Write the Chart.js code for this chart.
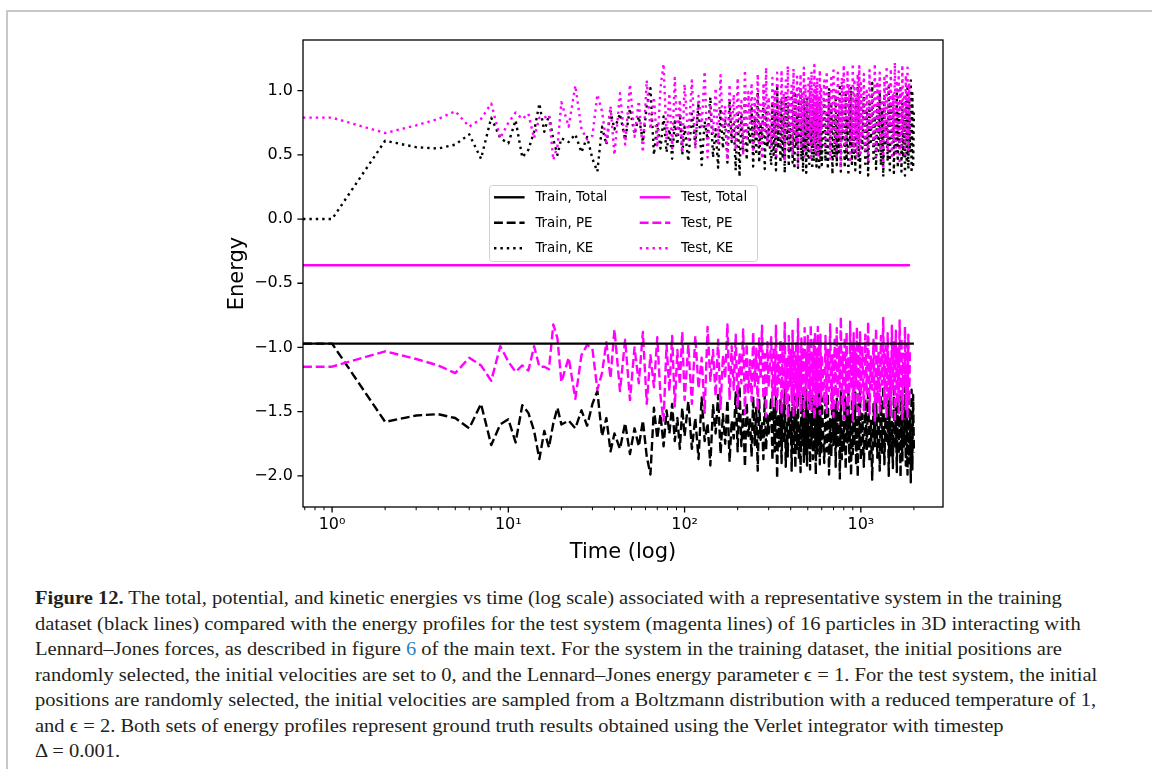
<!DOCTYPE html>
<html>
<head>
<meta charset="utf-8">
<title>Figure 12</title>
<script src="https://cdn.jsdelivr.net/npm/chart.js@4.4.1/dist/chart.umd.min.js"></script>
<style>
body{margin:0;background:#fff;width:1152px;height:769px;overflow:hidden;position:relative;}
#frame{position:absolute;left:6px;top:10px;right:0;bottom:0;border-top:2px solid #c8c8c8;border-left:2px solid #c8c8c8;}
#plot{position:absolute;left:0;top:0;}
#caption{position:absolute;left:35px;top:585px;font-family:"Liberation Serif",serif;font-size:19px;line-height:25.5px;color:#231f20;white-space:nowrap;transform:scaleX(1.08);transform-origin:left top;}
#caption .ref{color:#2a86c6;}
</style>
</head>
<body>
<div id="frame"></div>
<canvas id="plot" width="1152" height="575"></canvas>
<div id="caption"><b>Figure 12.</b> The total, potential, and kinetic energies vs time (log scale) associated with a representative system in the training<br>
dataset (black lines) compared with the energy profiles for the test system (magenta lines) of 16 particles in 3D interacting with<br>
Lennard–Jones forces, as described in figure <span class="ref">6</span> of the main text. For the system in the training dataset, the initial positions are<br>
randomly selected, the initial velocities are set to 0, and the Lennard–Jones energy parameter ϵ = 1. For the test system, the initial<br>
positions are randomly selected, the initial velocities are sampled from a Boltzmann distribution with a reduced temperature of 1,<br>
and ϵ = 2. Both sets of energy profiles represent ground truth results obtained using the Verlet integrator with timestep<br>
Δ = 0.001.</div>
<script>
// sampled time steps (shared by all noisy series)
const timeSteps = [
    0,1,2,3,4,5,6,7,8,9,10,11,12,13,14,15,16,17,18,19,20,
    22,24,26,28,30,32,34,36,38,40,
    43,46,49,52,55,58,61,64,67,70,73,76,79,82,85,88,91,94,97,100,
    105,110,115,120,125,130,135,140,145,150,155,160,165,170,175,180,185,190,195,200,
    205,210,215,220,225,230,235,240,245,250,255,260,265,270,275,280,285,290,295,300,
    310,315,320,325,330,335,340,345,350,355,360,365,370,375,380,385,390,395,400,405,
    410,415,420,425,430,435,440,445,450,455,460,465,470,475,480,485,490,495,500,505,
    510,515,520,525,530,535,540,545,550,555,560,565,570,575,580,585,590,595,600,
    620,630,640,650,660,670,680,690,700,710,720,730,740,750,760,770,780,790,800,810,
    820,830,840,850,860,870,880,890,900,910,920,930,940,950,960,970,980,990,1000,
    1020,1040,1060,1080,1100,1120,1140,1160,1180,1200,1220,1240,1260,1280,1300,1320,1340,1360,1380,1400,
    1420,1440,1460,1480,1500,1520,1540,1560,1580,1600,1620,1640,1660,1680,1700,1720,1740,1760,1780,1800,
    1820,1840,1860,1880,1900,1920,1940,1960,1980,2000
];

// training system
const trainKE = [
    0.00,0.00,0.61,0.56,0.55,0.58,0.66,0.47,0.79,0.63,0.59,0.77,0.48,0.54,0.68,0.90,0.68,0.81,0.62,0.50,0.63,
    0.60,0.66,0.52,0.64,0.47,0.37,0.72,0.58,0.84,0.70,
    0.82,0.62,0.86,0.66,0.80,0.60,0.88,1.02,0.50,0.74,0.55,0.80,0.52,0.70,0.47,0.76,0.58,0.82,0.50,0.72,
    0.45,0.82,0.58,0.90,0.42,0.76,0.62,0.95,0.48,0.70,0.40,0.86,0.55,0.78,0.44,0.92,0.60,0.74,0.38,0.84,
    0.33,0.80,0.52,0.96,0.46,0.72,0.58,0.88,0.41,0.79,0.50,0.99,0.44,0.75,0.62,0.90,0.39,0.83,0.56,0.70,
    0.42,0.91,0.50,0.84,0.38,1.05,0.55,0.80,0.44,0.93,0.47,0.78,0.36,0.96,0.60,0.88,0.41,0.74,0.52,0.99,
    0.44,0.85,0.39,0.97,0.56,0.82,0.40,0.90,0.63,1.00,0.46,0.79,0.37,0.92,0.54,0.86,0.36,0.95,0.49,0.81,
    0.43,0.98,0.57,0.76,0.39,0.90,0.45,0.84,0.58,1.02,0.41,0.87,0.50,0.79,0.38,0.94,0.47,0.86,0.42,
    0.93,0.45,0.84,0.39,1.02,0.58,0.88,0.35,0.79,0.48,0.96,0.42,0.81,0.52,1.05,0.37,0.90,0.61,0.83,0.40,
    0.98,0.46,0.77,0.34,0.92,0.56,1.03,0.43,0.86,0.50,0.80,0.38,0.95,0.60,1.04,0.45,0.82,0.36,0.91,
    0.55,0.96,0.43,0.83,0.34,0.92,0.60,1.06,0.47,0.80,0.39,0.89,0.53,0.99,0.42,0.85,0.33,0.94,0.57,0.78,
    0.45,1.03,0.38,0.88,0.61,0.97,0.36,0.82,0.50,1.00,0.40,0.86,0.56,1.04,0.37,0.91,0.48,0.80,0.34,0.95,
    0.44,1.02,0.39,0.93,0.52,1.08,0.36,0.98,0.40,0.85
];
const trainPE = [
    -0.97,-0.97,-1.58,-1.53,-1.52,-1.55,-1.63,-1.44,-1.76,-1.60,-1.56,-1.74,-1.45,-1.51,-1.65,-1.87,-1.65,-1.78,-1.59,-1.47,-1.60,
    -1.57,-1.63,-1.49,-1.61,-1.44,-1.34,-1.69,-1.55,-1.81,-1.67,
    -1.79,-1.59,-1.83,-1.63,-1.77,-1.57,-1.85,-1.99,-1.47,-1.71,-1.52,-1.77,-1.49,-1.67,-1.44,-1.73,-1.55,-1.79,-1.47,-1.69,
    -1.42,-1.79,-1.55,-1.87,-1.39,-1.73,-1.59,-1.92,-1.45,-1.67,-1.37,-1.83,-1.52,-1.75,-1.41,-1.89,-1.57,-1.71,-1.35,-1.81,
    -1.30,-1.77,-1.49,-1.93,-1.43,-1.69,-1.55,-1.85,-1.38,-1.76,-1.47,-1.96,-1.41,-1.72,-1.59,-1.87,-1.36,-1.80,-1.53,-1.67,
    -1.39,-1.88,-1.47,-1.81,-1.35,-2.02,-1.52,-1.77,-1.41,-1.90,-1.44,-1.75,-1.33,-1.93,-1.57,-1.85,-1.38,-1.71,-1.49,-1.96,
    -1.41,-1.82,-1.36,-1.94,-1.53,-1.79,-1.37,-1.87,-1.60,-1.97,-1.43,-1.76,-1.34,-1.89,-1.51,-1.83,-1.33,-1.92,-1.46,-1.78,
    -1.40,-1.95,-1.54,-1.73,-1.36,-1.87,-1.42,-1.81,-1.55,-1.99,-1.38,-1.84,-1.47,-1.76,-1.35,-1.91,-1.44,-1.83,-1.39,
    -1.90,-1.42,-1.81,-1.36,-1.99,-1.55,-1.85,-1.32,-1.76,-1.45,-1.93,-1.39,-1.78,-1.49,-2.02,-1.34,-1.87,-1.58,-1.80,-1.37,
    -1.95,-1.43,-1.74,-1.31,-1.89,-1.53,-2.00,-1.40,-1.83,-1.47,-1.77,-1.35,-1.92,-1.57,-2.01,-1.42,-1.79,-1.33,-1.88,
    -1.52,-1.93,-1.40,-1.80,-1.31,-1.89,-1.57,-2.03,-1.44,-1.77,-1.36,-1.86,-1.50,-1.96,-1.39,-1.82,-1.30,-1.91,-1.54,-1.75,
    -1.42,-2.00,-1.35,-1.85,-1.58,-1.94,-1.33,-1.79,-1.47,-1.97,-1.37,-1.83,-1.53,-2.01,-1.34,-1.88,-1.45,-1.77,-1.31,-1.92,
    -1.41,-1.99,-1.36,-1.90,-1.49,-2.05,-1.33,-1.95,-1.37,-1.82
];
const trainTotalTimes = [0, 2000];
const trainTotal = [-0.97, -0.97];

// test system (run stops at t = 1900)
const testKE = [
    0.79,0.79,0.67,0.73,0.78,0.84,0.72,0.78,0.90,0.63,0.75,0.83,0.78,0.82,0.63,0.79,0.79,0.81,0.46,0.57,0.91,
    0.72,1.04,0.70,0.62,0.65,0.97,0.84,0.60,0.88,0.50,
    0.98,0.58,1.05,0.64,0.92,0.52,1.08,0.70,0.95,0.56,1.02,1.21,0.62,0.98,0.55,1.10,0.66,0.93,0.52,1.05,
    0.62,1.08,0.55,0.96,0.72,1.15,0.48,0.90,0.66,1.02,0.58,1.12,0.70,0.88,0.46,1.05,0.63,0.97,0.54,1.10,
    0.68,0.92,0.50,1.16,0.61,0.99,0.74,1.06,0.52,0.94,0.65,1.13,0.57,0.89,0.47,1.04,0.69,1.18,0.60,0.95,
    0.56,1.10,0.64,1.01,0.47,1.14,0.70,0.92,0.58,1.16,0.62,0.98,0.45,1.08,0.73,1.19,0.55,0.94,0.66,1.06,
    0.50,1.17,0.68,0.95,0.59,1.11,0.42,1.02,0.71,1.13,0.57,0.99,0.64,1.18,0.49,1.05,0.69,0.91,0.55,1.12,
    0.63,1.07,0.46,1.15,0.72,0.97,0.58,1.20,0.52,1.04,0.67,1.10,0.48,0.96,0.61,1.16,0.54,1.03,0.70,
    1.08,0.55,1.15,0.66,0.98,0.46,1.12,0.70,1.18,0.58,1.02,0.49,1.14,0.63,0.95,0.40,1.10,0.68,1.20,0.56,
    0.99,0.52,1.16,0.71,1.05,0.44,0.96,0.62,1.21,0.53,1.09,0.65,0.94,0.48,1.13,0.59,1.19,0.51,1.06,
    0.64,1.13,0.54,1.00,0.44,1.16,0.71,0.97,0.58,1.21,0.49,1.07,0.67,1.14,0.55,0.93,0.41,1.10,0.63,1.19,
    0.53,1.04,0.72,1.17,0.47,0.98,0.60,1.22,0.51,1.08,0.65,1.15,0.43,1.01,0.57,1.20,0.69,0.95,0.48,1.12,
    0.61,1.18,0.54,1.06,0.66
];
const testPE = [
    -1.15,-1.15,-1.03,-1.09,-1.14,-1.20,-1.08,-1.14,-1.26,-0.99,-1.11,-1.19,-1.14,-1.18,-0.99,-1.15,-1.15,-1.17,-0.82,-0.93,-1.27,
    -1.08,-1.40,-1.06,-0.98,-1.01,-1.33,-1.20,-0.96,-1.24,-0.86,
    -1.34,-0.94,-1.41,-1.00,-1.28,-0.88,-1.44,-1.06,-1.31,-0.92,-1.38,-1.57,-0.98,-1.34,-0.91,-1.46,-1.02,-1.29,-0.88,-1.41,
    -0.98,-1.44,-0.91,-1.32,-1.08,-1.51,-0.84,-1.26,-1.02,-1.38,-0.94,-1.48,-1.06,-1.24,-0.82,-1.41,-0.99,-1.33,-0.90,-1.46,
    -1.04,-1.28,-0.86,-1.52,-0.97,-1.35,-1.10,-1.42,-0.88,-1.30,-1.01,-1.49,-0.93,-1.25,-0.83,-1.40,-1.05,-1.54,-0.96,-1.31,
    -0.92,-1.46,-1.00,-1.37,-0.83,-1.50,-1.06,-1.28,-0.94,-1.52,-0.98,-1.34,-0.81,-1.44,-1.09,-1.55,-0.91,-1.30,-1.02,-1.42,
    -0.86,-1.53,-1.04,-1.31,-0.95,-1.47,-0.78,-1.38,-1.07,-1.49,-0.93,-1.35,-1.00,-1.54,-0.85,-1.41,-1.05,-1.27,-0.91,-1.48,
    -0.99,-1.43,-0.82,-1.51,-1.08,-1.33,-0.94,-1.56,-0.88,-1.40,-1.03,-1.46,-0.84,-1.32,-0.97,-1.52,-0.90,-1.39,-1.06,
    -1.44,-0.91,-1.51,-1.02,-1.34,-0.82,-1.48,-1.06,-1.54,-0.94,-1.38,-0.85,-1.50,-0.99,-1.31,-0.76,-1.46,-1.04,-1.56,-0.92,
    -1.35,-0.88,-1.52,-1.07,-1.41,-0.80,-1.32,-0.98,-1.57,-0.89,-1.45,-1.01,-1.30,-0.84,-1.49,-0.95,-1.55,-0.87,-1.42,
    -1.00,-1.49,-0.90,-1.36,-0.80,-1.52,-1.07,-1.33,-0.94,-1.57,-0.85,-1.43,-1.03,-1.50,-0.91,-1.29,-0.77,-1.46,-0.99,-1.55,
    -0.89,-1.40,-1.08,-1.53,-0.83,-1.34,-0.96,-1.58,-0.87,-1.44,-1.01,-1.51,-0.79,-1.37,-0.93,-1.56,-1.05,-1.31,-0.84,-1.48,
    -0.97,-1.54,-0.90,-1.42,-1.02
];
const testTotalTimes = [0, 1900];
const testTotal = [-0.36, -0.36];

// axes
const xMin = 0.684, xMax = 2925;
const yMin = -2.243, yMax = 1.395;
const xTicks = [1, 10, 100, 1000];
const xTickLabels = ['10\u2070', '10\u00b9', '10\u00b2', '10\u00b3'];
const yTicks = [-2.0, -1.5, -1.0, -0.5, 0.0, 0.5, 1.0];
const yTickLabels = ['\u22122.0', '\u22121.5', '\u22121.0', '\u22120.5', '0.0', '0.5', '1.0'];

const legendOrder = ['Train, Total', 'Train, PE', 'Train, KE', 'Test, Total', 'Test, PE', 'Test, KE'];

const BLACK = '#000000', MAGENTA = '#ff00ff';
const DASHED = [8.9, 3.8], DOTTED = [2.4, 4.0];

function pairs(times, values){
    return values.map((v, i) => ({x: times[i], y: v}));
}

function series(label, times, values, color, dash, order){
    return {
        label: label,
        data: pairs(times, values),
        borderColor: color,
        borderWidth: 2.4,
        borderDash: dash,
        borderCapStyle: 'butt',
        borderJoinStyle: 'round',
        pointRadius: 0,
        tension: 0,
        fill: false,
        order: order
    };
}

// frame, matplotlib style ticks and the two column legend
const axesDecor = {
    id: 'axesDecor',
    afterDraw(chart){
        const ctx = chart.ctx;
        const a = chart.chartArea;
        const xs = chart.scales.x, ys = chart.scales.y;

        ctx.save();
        ctx.strokeStyle = '#000';

        ctx.lineWidth = 1.3;
        ctx.beginPath();
        yTicks.forEach(v => {
            const py = ys.getPixelForValue(v);
            ctx.moveTo(a.left - 5.6, py);
            ctx.lineTo(a.left, py);
        });
        xTicks.forEach(v => {
            const px = xs.getPixelForValue(v);
            ctx.moveTo(px, a.bottom);
            ctx.lineTo(px, a.bottom + 5.6);
        });
        ctx.stroke();

        ctx.lineWidth = 1;
        ctx.beginPath();
        for(let d = -1; d <= 3; d++){
            for(let m = 2; m <= 9; m++){
                const v = m * Math.pow(10, d);
                if(v < xs.min || v > xs.max) continue;
                const px = xs.getPixelForValue(v);
                ctx.moveTo(px, a.bottom);
                ctx.lineTo(px, a.bottom + 3.2);
            }
        }
        ctx.stroke();

        ctx.lineWidth = 1.3;
        ctx.strokeRect(a.left, a.top, a.right - a.left, a.bottom - a.top);

        // legend box
        const bx = 489, by = 185, bw = 268, bh = 76;
        ctx.beginPath();
        ctx.roundRect(bx + 0.5, by + 0.5, bw, bh, 3);
        ctx.fillStyle = 'rgba(255,255,255,0.8)';
        ctx.fill();
        ctx.lineWidth = 1;
        ctx.strokeStyle = '#d0d0d0';
        ctx.stroke();

        ctx.font = '13.4px "DejaVu Sans"';
        ctx.textBaseline = 'middle';
        ctx.textAlign = 'left';
        legendOrder.forEach((label, i) => {
            const ds = chart.data.datasets.find(d => d.label === label);
            const col = Math.floor(i / 3), row = i % 3;
            const sx = bx + 5 + col * 145.7;
            const sy = by + 12.3 + row * 25.5;
            ctx.strokeStyle = ds.borderColor;
            ctx.lineWidth = ds.borderWidth;
            ctx.lineCap = 'butt';
            ctx.setLineDash(ds.borderDash || []);
            ctx.beginPath();
            ctx.moveTo(sx, sy);
            ctx.lineTo(sx + 30.6, sy);
            ctx.stroke();
            ctx.setLineDash([]);
            ctx.fillStyle = '#000';
            ctx.fillText(label, sx + 41.4, sy + 0.5);
        });
        ctx.restore();
    }
};

new Chart(document.getElementById('plot'), {
    type: 'line',
    data: {
        datasets: [
            series('Train, Total', trainTotalTimes, trainTotal, BLACK, [], 2),
            series('Train, PE', timeSteps, trainPE, BLACK, DASHED, 6),
            series('Train, KE', timeSteps, trainKE, BLACK, DOTTED, 5),
            series('Test, Total', testTotalTimes, testTotal, MAGENTA, [], 1),
            series('Test, PE', timeSteps, testPE, MAGENTA, DASHED, 4),
            series('Test, KE', timeSteps, testKE, MAGENTA, DOTTED, 3)
        ]
    },
    options: {
        responsive: false,
        animation: false,
        events: [],
        layout: {padding: {left: 203, top: 40, right: 209, bottom: 8}},
        plugins: {legend: {display: false}, tooltip: {enabled: false}},
        scales: {
            x: {
                type: 'logarithmic',
                min: xMin,
                max: xMax,
                bounds: 'data',
                grid: {display: false, drawTicks: false},
                border: {display: false},
                afterBuildTicks: s => { s.ticks = xTicks.map(v => ({value: v})); },
                afterFit: s => { s.height = 60; },
                ticks: {
                    autoSkip: false, maxRotation: 0, padding: 8, color: '#000',
                    font: {family: 'DejaVu Sans', size: 16},
                    callback: (v, i) => xTickLabels[i]
                },
                title: {
                    display: true, text: 'Time (log)', color: '#000',
                    font: {family: 'DejaVu Sans', size: 21},
                    padding: {top: 0, bottom: 2}
                }
            },
            y: {
                type: 'linear',
                min: yMin,
                max: yMax,
                bounds: 'data',
                grid: {display: false, drawTicks: false},
                border: {display: false},
                afterBuildTicks: s => { s.ticks = yTicks.map(v => ({value: v})); },
                afterFit: s => { s.width = 100; },
                ticks: {
                    padding: 10, color: '#000',
                    font: {family: 'DejaVu Sans', size: 16},
                    callback: (v, i) => yTickLabels[i]
                },
                title: {
                    display: true, text: 'Energy', color: '#000',
                    font: {family: 'DejaVu Sans', size: 21},
                    padding: {top: 22, bottom: 0}
                }
            }
        }
    },
    plugins: [axesDecor]
});
</script>
</body>
</html>
